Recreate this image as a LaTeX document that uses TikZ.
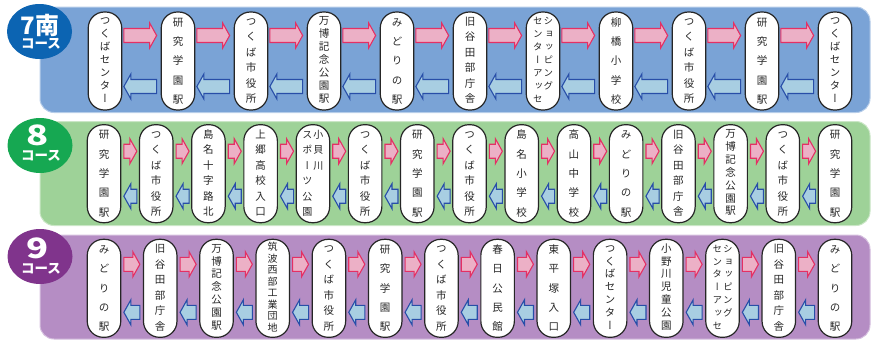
\documentclass[tikz,border=0pt]{standalone}
\usepackage{fontspec}
\usepackage{graphicx}
\usetikzlibrary{calc,shapes.geometric}
\newfontfamily\jp{Noto Sans CJK JP}
\newfontfamily\jpv[RawFeature=+vert]{Noto Sans CJK JP}
\definecolor{bandA}{RGB}{122,163,214}
\definecolor{bandB}{RGB}{158,210,152}
\definecolor{bandC}{RGB}{181,141,196}
\definecolor{badgeA}{RGB}{12,100,178}
\definecolor{badgeB}{RGB}{22,168,82}
\definecolor{badgeC}{RGB}{128,52,140}
\definecolor{pinkF}{RGB}{236,176,198}
\definecolor{pinkD}{RGB}{228,48,100}
\definecolor{bluF}{RGB}{168,206,226}
\definecolor{bluD}{RGB}{40,78,168}
\newcommand\vt[3][10.5]{{\jpv\fontsize{#1}{#2}\selectfont\begin{tabular}[t]{@{}c@{}}#3\end{tabular}}}
\newcommand\rarr[5]{%
 \draw[parrow] ($(#1.east)+(#4,#3-7)$) -- ($(#2.west)+(-#5-7,#3-7)$) -- ($(#2.west)+(-#5-7,#3-12.5)$) -- ($(#2.west)+(-#5,#3)$) -- ($(#2.west)+(-#5-7,#3+12.5)$) -- ($(#2.west)+(-#5-7,#3+7)$) -- ($(#1.east)+(#4,#3+7)$) -- cycle;}
\newcommand\larr[5]{%
 \draw[barrow] ($(#1.east)+(#4,#3)$) -- ($(#1.east)+(#4+7,#3-12.5)$) -- ($(#1.east)+(#4+7,#3-7)$) -- ($(#2.west)+(-#5,#3-7)$) -- ($(#2.west)+(-#5,#3+7)$) -- ($(#1.east)+(#4+7,#3+7)$) -- ($(#1.east)+(#4+7,#3+12.5)$) -- cycle;}
\begin{document}
\begin{tikzpicture}[x=1pt,y=-1pt,
  stn/.style={draw=black!85, fill=white, line width=1.2pt, rounded corners=16pt, minimum width=33.5pt, minimum height=98pt, inner sep=0pt, text=black!85},
  parrow/.style={draw=pinkD, fill=pinkF, line width=1.1pt, line join=miter},
  barrow/.style={draw=bluD, fill=bluF, line width=1.1pt, line join=miter},
  badge/.style={ellipse, minimum width=65pt, minimum height=55pt, inner sep=0pt},
  bnum/.style={text=white, inner sep=0pt, font=\jp\bfseries\fontsize{24}{24}\selectfont},
  bcourse/.style={text=white, inner sep=0pt, font=\jp\bfseries\fontsize{13.5}{14}\selectfont}]
\useasboundingbox (0,0) rectangle (875,341);
% bands
\draw[bandA!55!white, fill=bandA, line width=1pt, rounded corners=14pt] (40,7) rectangle (870,112.5);
\draw[bandB!55!white, fill=bandB, line width=1pt, rounded corners=14pt] (40,121.5) rectangle (870,225.5);
\draw[bandC!55!white, fill=bandC, line width=1pt, rounded corners=14pt] (40,235) rectangle (870,339);
% badges
\node[badge, fill=badgeA] (ba) at (39.5,31.5) {};
\node[bnum] (ba1) at (40,25) {7南};
\node[bcourse] (ba2) at (41,44) {コース};
\node[badge, fill=badgeB] (bb) at (40,145.5) {};
\node[bnum] (bb1) at (38,135) {\scalebox{1.3}[1]{\fontsize{28}{28}\selectfont 8}};
\node[bcourse] (bb2) at (41,156) {コース};
\node[badge, fill=badgeC] (bc) at (40,256.5) {};
\node[bnum] (bc1) at (38,248) {\scalebox{1.3}[1]{\fontsize{28}{28}\selectfont 9}};
\node[bcourse] (bc2) at (41,269) {コース};
% row 1 (7南)
\node[stn] (a1) at (105,61) {\vt{12.9}{つ\\く\\ば\\セ\\ン\\タ\\ー}};
\node[stn] (a2) at (178,61) {\vt{19.4}{研\\究\\学\\園\\駅}};
\node[stn] (a3) at (251,61) {\vt{15.5}{つ\\く\\ば\\市\\役\\所}};
\node[stn] (a4) at (324,61) {\vt{12.9}{万\\博\\記\\念\\公\\園\\駅}};
\node[stn] (a5) at (397,61) {\vt{19.4}{み\\ど\\り\\の\\駅}};
\node[stn] (a6) at (470,61) {\vt{15.5}{旧\\谷\\田\\部\\庁\\舎}};
\node[stn] (a7) at (543,61) {\vt[9.5]{12.9}{セ\\ン\\タ\\ー\\ア\\ッ\\セ}\hspace{1pt}\vt[9.5]{12.9}{シ\\ョ\\ッ\\ピ\\ン\\グ}};
\node[stn] (a8) at (616,61) {\vt{19.4}{柳\\橋\\小\\学\\校}};
\node[stn] (a9) at (689,61) {\vt{15.5}{つ\\く\\ば\\市\\役\\所}};
\node[stn] (a10) at (762,61) {\vt{19.4}{研\\究\\学\\園\\駅}};
\node[stn] (a11) at (835,61) {\vt{12.9}{つ\\く\\ば\\セ\\ン\\タ\\ー}};
\foreach \i [evaluate=\i as \j using int(\i+1)] in {1,...,10} {\rarr{a\i}{a\j}{-25.5}{1.5}{4}\larr{a\i}{a\j}{25.5}{1.5}{4}}
% row 2 (8)
\node[stn] (b1) at (104,173.7) {\vt{19.4}{研\\究\\学\\園\\駅}};
\node[stn] (b2) at (156.2,173.7) {\vt{15.5}{つ\\く\\ば\\市\\役\\所}};
\node[stn] (b3) at (208.4,173.7) {\vt{15.5}{島\\名\\十\\字\\路\\北}};
\node[stn] (b4) at (260.6,173.7) {\vt{15.5}{上\\郷\\高\\校\\入\\口}};
\node[stn] (b5) at (312.9,173.7) {\vt[10]{15.5}{ス\\ポ\\ー\\ツ\\公\\園}\hspace{1pt}\vt[10]{15.5}{小\\貝\\川}};
\node[stn] (b6) at (365.1,173.7) {\vt{15.5}{つ\\く\\ば\\市\\役\\所}};
\node[stn] (b7) at (417.3,173.7) {\vt{19.4}{研\\究\\学\\園\\駅}};
\node[stn] (b8) at (469.5,173.7) {\vt{15.5}{つ\\く\\ば\\市\\役\\所}};
\node[stn] (b9) at (521.7,173.7) {\vt{19.4}{島\\名\\小\\学\\校}};
\node[stn] (b10) at (573.9,173.7) {\vt{19.4}{高\\山\\中\\学\\校}};
\node[stn] (b11) at (626.1,173.7) {\vt{19.4}{み\\ど\\り\\の\\駅}};
\node[stn] (b12) at (678.4,173.7) {\vt{15.5}{旧\\谷\\田\\部\\庁\\舎}};
\node[stn] (b13) at (730.6,173.7) {\vt{12.9}{万\\博\\記\\念\\公\\園\\駅}};
\node[stn] (b14) at (782.8,173.7) {\vt{15.5}{つ\\く\\ば\\市\\役\\所}};
\node[stn] (b15) at (835,173.7) {\vt{19.4}{研\\究\\学\\園\\駅}};
\foreach \i [evaluate=\i as \j using int(\i+1)] in {1,...,14} {\rarr{b\i}{b\j}{-22.5}{2.5}{2}\larr{b\i}{b\j}{22.5}{2.5}{2}}
% row 3 (9)
\node[stn] (c1) at (104,288.3) {\vt{19.4}{み\\ど\\り\\の\\駅}};
\node[stn] (c2) at (160.2,288.3) {\vt{15.5}{旧\\谷\\田\\部\\庁\\舎}};
\node[stn] (c3) at (216.5,288.3) {\vt{12.9}{万\\博\\記\\念\\公\\園\\駅}};
\node[stn] (c4) at (272.7,288.3) {\vt[10]{11.1}{筑\\波\\西\\部\\工\\業\\団\\地}};
\node[stn] (c5) at (328.9,288.3) {\vt{15.5}{つ\\く\\ば\\市\\役\\所}};
\node[stn] (c6) at (385.2,288.3) {\vt{19.4}{研\\究\\学\\園\\駅}};
\node[stn] (c7) at (441.4,288.3) {\vt{15.5}{つ\\く\\ば\\市\\役\\所}};
\node[stn] (c8) at (497.6,288.3) {\vt{19.4}{春\\日\\公\\民\\館}};
\node[stn] (c9) at (553.8,288.3) {\vt{19.4}{東\\平\\塚\\入\\口}};
\node[stn] (c10) at (610.1,288.3) {\vt{12.9}{つ\\く\\ば\\セ\\ン\\タ\\ー}};
\node[stn] (c11) at (666.3,288.3) {\vt{12.9}{小\\野\\川\\児\\童\\公\\園}};
\node[stn] (c12) at (722.5,288.3) {\vt[9.5]{12.9}{セ\\ン\\タ\\ー\\ア\\ッ\\セ}\hspace{1pt}\vt[9.5]{12.9}{シ\\ョ\\ッ\\ピ\\ン\\グ}};
\node[stn] (c13) at (778.8,288.3) {\vt{15.5}{旧\\谷\\田\\部\\庁\\舎}};
\node[stn] (c14) at (835,288.3) {\vt{19.4}{み\\ど\\り\\の\\駅}};
\foreach \i [evaluate=\i as \j using int(\i+1)] in {1,...,13} {\rarr{c\i}{c\j}{-24}{2.5}{3}\larr{c\i}{c\j}{24}{2.5}{3}}
\end{tikzpicture}
\end{document}
